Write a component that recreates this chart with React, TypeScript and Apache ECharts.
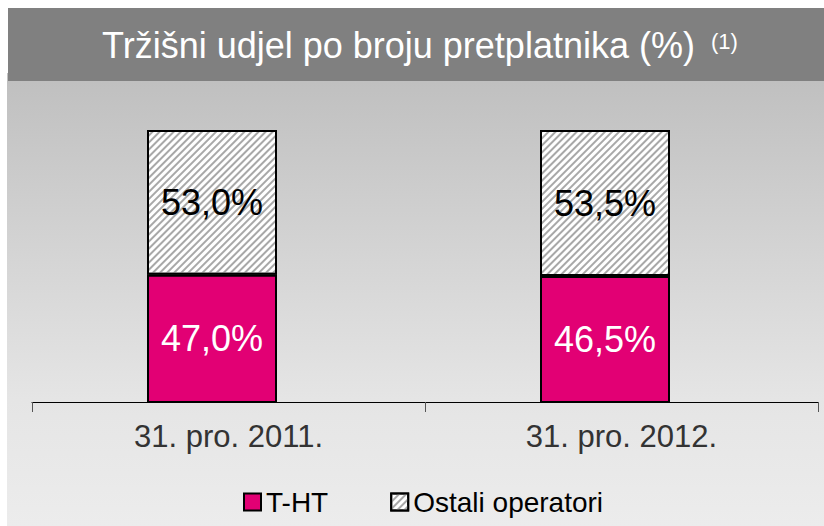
import React, { useEffect, useRef } from "react";
import * as echarts from "echarts";

const categories = ["31. pro. 2011.", "31. pro. 2012."];
const thtValues = [47.0, 46.5];
const ostaliValues = [53.0, 53.5];
const seriesNames = ["T-HT", "Ostali operatori"];
const titleText = "Tržišni udjel po broju pretplatnika (%)";
const titleNote = "(1)";

const FONT = "'Liberation Sans', Arial, sans-serif";

const fmt = (v: number) => v.toFixed(1).replace(".", ",") + "%";

export default function App() {
  const ref = useRef<HTMLDivElement>(null);
  useEffect(() => {
    if (!ref.current) return;
    const chart = echarts.init(ref.current, null, { renderer: "svg" });
    const hatch = {
      symbol: "rect",
      color: "#a8a8a8",
      dashArrayX: [1, 0],
      dashArrayY: [1.4, 2.4],
      rotation: -Math.PI / 4,
      symbolSize: 1,
    };
    chart.setOption({
      animation: false,
      backgroundColor: "#ffffff",
      textStyle: { fontFamily: FONT },
      graphic: [
        {
          type: "rect",
          z: -10,
          shape: { x: 7, y: 73, width: 817, height: 453 },
          style: {
            fill: new echarts.graphic.LinearGradient(0, 0, 0, 1, [
              { offset: 0, color: "#bfbfbf" },
              { offset: 0.72, color: "#e5e5e5" },
              { offset: 1, color: "#ececec" },
            ]),
          },
          silent: true,
        },
        {
          type: "rect",
          z: -9,
          shape: { x: 8, y: 8, width: 816, height: 73 },
          style: { fill: "#808080" },
          silent: true,
        },
        {
          type: "text",
          x: 102,
          y: 45,
          style: {
            text: titleText,
            fill: "#ffffff",
            fontSize: 36,
            fontFamily: FONT,
            textVerticalAlign: "middle",
            textAlign: "left",
          },
          silent: true,
        },
        {
          type: "text",
          x: 711,
          y: 41,
          style: {
            text: titleNote,
            fill: "#ffffff",
            fontSize: 22,
            fontFamily: FONT,
            textVerticalAlign: "middle",
            textAlign: "left",
          },
          silent: true,
        },
      ],
      legend: {
        left: 238,
        top: 483,
        itemWidth: 17,
        itemHeight: 17,
        itemGap: 62,
        icon: "rect",
        data: seriesNames,
        itemStyle: { borderColor: "#000", borderWidth: 2 },
        textStyle: { fontSize: 28, color: "#000", fontFamily: FONT, padding: [0, 0, 0, 0] },
      },
      grid: [
        { left: 32, right: 6, top: 130, bottom: 124 },
        { left: 15.5, right: 22.5, top: 130, bottom: 123 },
      ],
      xAxis: [
        {
          type: "category",
          gridIndex: 0,
          data: categories,
          axisLine: { show: true, lineStyle: { color: "#000", width: 1 } },
          axisTick: { show: true, length: 10, lineStyle: { color: "#555", width: 1 } },
          axisLabel: { fontSize: 31, color: "#333", margin: 19, fontFamily: FONT },
        },
        {
          type: "category",
          gridIndex: 1,
          data: categories,
          show: false,
        },
      ],
      yAxis: [
        { type: "value", gridIndex: 0, min: 0, max: 100, show: false },
        { type: "value", gridIndex: 1, min: 0, max: 100, show: false },
      ],
      series: [
        {
          name: seriesNames[0],
          type: "bar",
          stack: "total",
          xAxisIndex: 1,
          yAxisIndex: 1,
          barWidth: 130,
          data: thtValues,
          itemStyle: { color: "#e20074", borderColor: "#000", borderWidth: 2 },
          label: {
            show: true,
            position: "inside",
            formatter: (p: any) => fmt(p.value),
            fontSize: 36,
            color: "#ffffff",
            fontFamily: FONT,
          },
        },
        {
          name: seriesNames[1],
          type: "bar",
          stack: "total",
          xAxisIndex: 1,
          yAxisIndex: 1,
          barWidth: 130,
          data: ostaliValues,
          itemStyle: { color: "#ffffff", borderColor: "#000", borderWidth: 2, decal: hatch },
          label: {
            show: true,
            position: "inside",
            formatter: (p: any) => fmt(p.value),
            fontSize: 36,
            color: "#000000",
            fontFamily: FONT,
          },
        },
      ],
    });
    return () => chart.dispose();
  }, []);
  return (
    <div
      ref={ref}
      style={{ position: "fixed", left: 0, top: 0, width: 824, height: 526 }}
    />
  );
}
